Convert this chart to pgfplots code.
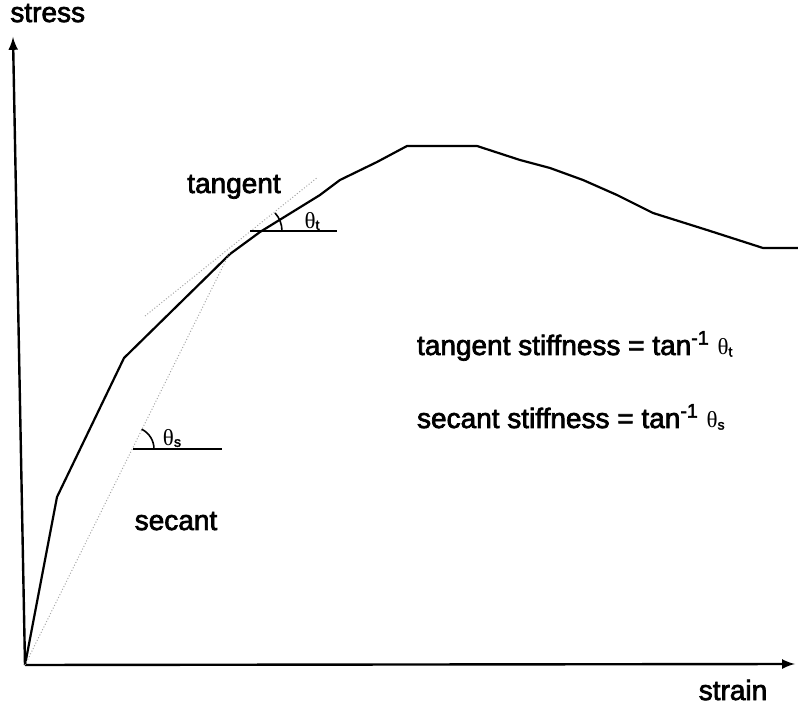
\documentclass[border=0pt]{standalone}
\usepackage{pgfplots}
\pgfplotsset{compat=1.18}
\usepackage{fontspec}
\setmainfont{Liberation Sans}[FakeBold=2.5]
\newfontfamily\thfont{Liberation Serif}
\newcommand{\thsub}[1]{{\fontsize{11.5}{13}\selectfont\thfont θ\raisebox{-0.15ex}{\fontsize{7}{8}\selectfont\rmfamily #1}}}
\begin{document}
\begin{tikzpicture}
\begin{axis}[
  x=0.5pt, y=0.5pt,
  xmin=0, xmax=770, ymin=0, ymax=628,
  axis lines=none,
  clip=false,
  ticks=none,
]
% axes
\draw[line width=1.2pt, -latex] (axis cs:0,0) -- (axis cs:770,1);
\draw[line width=1.2pt, -latex] (axis cs:0,0) -- (axis cs:-12,628);
% stress-strain curve
\addplot[black, line width=1.1pt] coordinates {
(0,0) (32,168) (99,307) (205,411) (235,433) (295,470) (315,485) (352,503)
(382,519) (452,519) (495,505) (525,497) (558,485) (592,470) (628,452)
(682,435) (738,417) (773,417)};
% tangent (dotted)
\addplot[gray!70, densely dotted, line width=0.5pt] coordinates {(120,349) (293,488)};
% secant (dotted)
\addplot[gray!70, densely dotted, line width=0.5pt] coordinates {(0,0) (205,413)};
% horizontal reference lines
\addplot[black, line width=0.9pt] coordinates {(225,434) (312,434)};
\addplot[black, line width=0.9pt] coordinates {(108,216) (197,216)};
% angle arcs
\draw[line width=0.8pt] (axis cs:230,434) ++(13.5pt,0) arc[start angle=0, end angle=42, radius=13.5pt];
\draw[line width=0.8pt] (axis cs:107,216) ++(11pt,0) arc[start angle=0, end angle=64, radius=11pt];
% labels
\node[anchor=base west, inner sep=0pt, font=\fontsize{14}{16}\selectfont] at (axis cs:-15,643) {stress};
\node[anchor=center, font=\fontsize{14}{16}\selectfont] at (axis cs:708,-25) {strain};
\node[anchor=base, font=\fontsize{14}{16}\selectfont] at (axis cs:209,472) {tangent};
\node[anchor=base, font=\fontsize{14}{16}\selectfont] at (axis cs:151,135) {secant};
\node[anchor=center] at (axis cs:287,444) {\thsub{t}};
\node[anchor=center] at (axis cs:147,227) {\thsub{s}};
\node[anchor=base west, font=\fontsize{14}{16}\selectfont] at (axis cs:385,310) {tangent stiffness = tan\textsuperscript{-1} \thsub{t}};
\node[anchor=base west, font=\fontsize{14}{16}\selectfont] at (axis cs:385,237) {secant stiffness = tan\textsuperscript{-1} \thsub{s}};
\coordinate (bbSW) at (axis cs:-25,-42);
\coordinate (bbNE) at (axis cs:773,665);
\end{axis}
\pgfresetboundingbox
\path[use as bounding box] (bbSW) rectangle (bbNE);
\end{tikzpicture}
\end{document}
